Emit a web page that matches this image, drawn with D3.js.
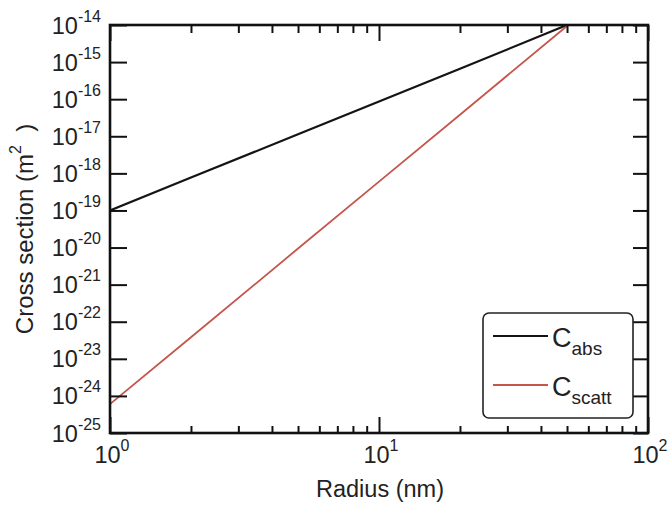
<!DOCTYPE html>
<html>
<head>
<meta charset="utf-8">
<script src="https://cdn.jsdelivr.net/npm/d3@7"></script>
<style>
  html, body { margin: 0; padding: 0; background: #fff; }
  svg { display: block; font-family: "Liberation Sans", Arial, Helvetica, sans-serif; }
</style>
</head>
<body>
<svg id="chart" width="668" height="505"></svg>
<script>
// Particle radius (nm) and the two cross-section curves (m^2)
const radius = [1, 2, 5, 10, 20, 50];
const cAbs   = [1.0e-19, 7.7e-19, 1.13e-17, 8.7e-17, 6.6e-16, 1.0e-14];
const cScatt = [6.0e-25, 3.8e-23, 9.4e-21, 6.0e-19, 3.8e-17, 9.4e-15];

// Axis decades
const xDecades = [0, 1, 2];
const yDecades = [-14, -15, -16, -17, -18, -19, -20, -21, -22, -23, -24, -25];

const seriesList = [
  { main: "C", sub: "abs",   values: cAbs,   color: "#141414", width: 2.2 },
  { main: "C", sub: "scatt", values: cScatt, color: "#c4564c", width: 1.8 }
];

const plot = { left: 110, right: 648, top: 25, bottom: 433 };

const svg = d3.select("#chart");

const x = d3.scaleLog().domain([1, 100]).range([plot.left, plot.right]);
const y = d3.scaleLog().domain([1e-25, 1e-14]).range([plot.bottom, plot.top]);

svg.append("defs").append("clipPath").attr("id", "plotClip")
  .append("rect").attr("x", plot.left).attr("y", plot.top)
  .attr("width", plot.right - plot.left).attr("height", plot.bottom - plot.top);

// Data lines
const line = d3.line().x(d => x(d[0])).y(d => y(d[1]));
const lines = svg.append("g").attr("clip-path", "url(#plotClip)");
seriesList.forEach(s => {
  lines.append("path")
    .datum(radius.map((r, i) => [r, s.values[i]]))
    .attr("d", line)
    .attr("fill", "none")
    .attr("stroke", s.color)
    .attr("stroke-width", s.width);
});

// Ticks: inward on all four sides
const xTickVals = x.ticks();
const isMajorX = v => Math.abs(Math.log10(v) - Math.round(Math.log10(v))) < 1e-9;
const yTickVals = yDecades.map(e => Math.pow(10, e));

function styleAxis(g) {
  g.select(".domain").remove();
  g.selectAll("text").remove();
  g.selectAll("line").attr("stroke", "#111").attr("stroke-width", 2);
}

const axBottom = svg.append("g").attr("transform", `translate(0,${plot.bottom})`)
  .call(d3.axisBottom(x).tickValues(xTickVals).tickFormat(""));
styleAxis(axBottom);
axBottom.selectAll(".tick line").attr("y2", d => isMajorX(d) ? -16 : -7);

const axTop = svg.append("g").attr("transform", `translate(0,${plot.top})`)
  .call(d3.axisTop(x).tickValues(xTickVals).tickFormat(""));
styleAxis(axTop);
axTop.selectAll(".tick line").attr("y2", d => isMajorX(d) ? 16 : 8);

const axLeft = svg.append("g").attr("transform", `translate(${plot.left},0)`)
  .call(d3.axisLeft(y).tickValues(yTickVals).tickFormat(""));
styleAxis(axLeft);
axLeft.selectAll(".tick line").attr("x2", 17);

const axRight = svg.append("g").attr("transform", `translate(${plot.right},0)`)
  .call(d3.axisRight(y).tickValues(yTickVals).tickFormat(""));
styleAxis(axRight);
axRight.selectAll(".tick line").attr("x2", -15);

// Frame
svg.append("rect")
  .attr("x", plot.left).attr("y", plot.top)
  .attr("width", plot.right - plot.left).attr("height", plot.bottom - plot.top)
  .attr("fill", "none").attr("stroke", "#111").attr("stroke-width", 2.6);

// Power-of-ten labels
function powerLabel(g, exp, anchor) {
  const t = g.append("text").attr("text-anchor", anchor).attr("fill", "#222");
  t.append("tspan").attr("font-size", 23.5).text("10");
  t.append("tspan").attr("font-size", 16).attr("dy", -12).text(String(exp));
  return t;
}

yDecades.forEach(e => {
  const g = svg.append("g").attr("transform", `translate(101,${y(Math.pow(10, e)) + 8.5})`);
  powerLabel(g, e, "end");
});

xDecades.forEach(e => {
  const g = svg.append("g").attr("transform", `translate(${x(Math.pow(10, e)) + 2},463)`);
  powerLabel(g, e, "middle");
});

// Axis titles
svg.append("text")
  .attr("x", (plot.left + plot.right) / 2 + 1).attr("y", 497)
  .attr("text-anchor", "middle").attr("font-size", 23.5).attr("fill", "#222")
  .text("Radius (nm)");

const yTitle = svg.append("text")
  .attr("transform", `translate(33,${(plot.top + plot.bottom) / 2}) rotate(-90)`)
  .attr("text-anchor", "middle").attr("font-size", 24).attr("fill", "#222");
yTitle.append("tspan").text("Cross section (m");
yTitle.append("tspan").attr("font-size", 16).attr("dy", -12).text("2");
yTitle.append("tspan").attr("dy", 12).text("\u00a0\u00a0)");

// Legend
const lg = svg.append("g");
lg.append("rect")
  .attr("x", 483).attr("y", 313).attr("width", 150).attr("height", 105)
  .attr("rx", 6).attr("fill", "#fff").attr("stroke", "#222").attr("stroke-width", 1.6);
seriesList.forEach((s, i) => {
  const cy = 336 + i * 49;
  lg.append("line").attr("x1", 493).attr("x2", 548).attr("y1", cy).attr("y2", cy)
    .attr("stroke", s.color).attr("stroke-width", s.width);
  const t = lg.append("text").attr("x", 552).attr("y", cy + 11).attr("fill", "#222");
  t.append("tspan").attr("font-size", 27).text(s.main);
  t.append("tspan").attr("font-size", 19).attr("dy", 8).text(s.sub);
});
</script>
</body>
</html>
